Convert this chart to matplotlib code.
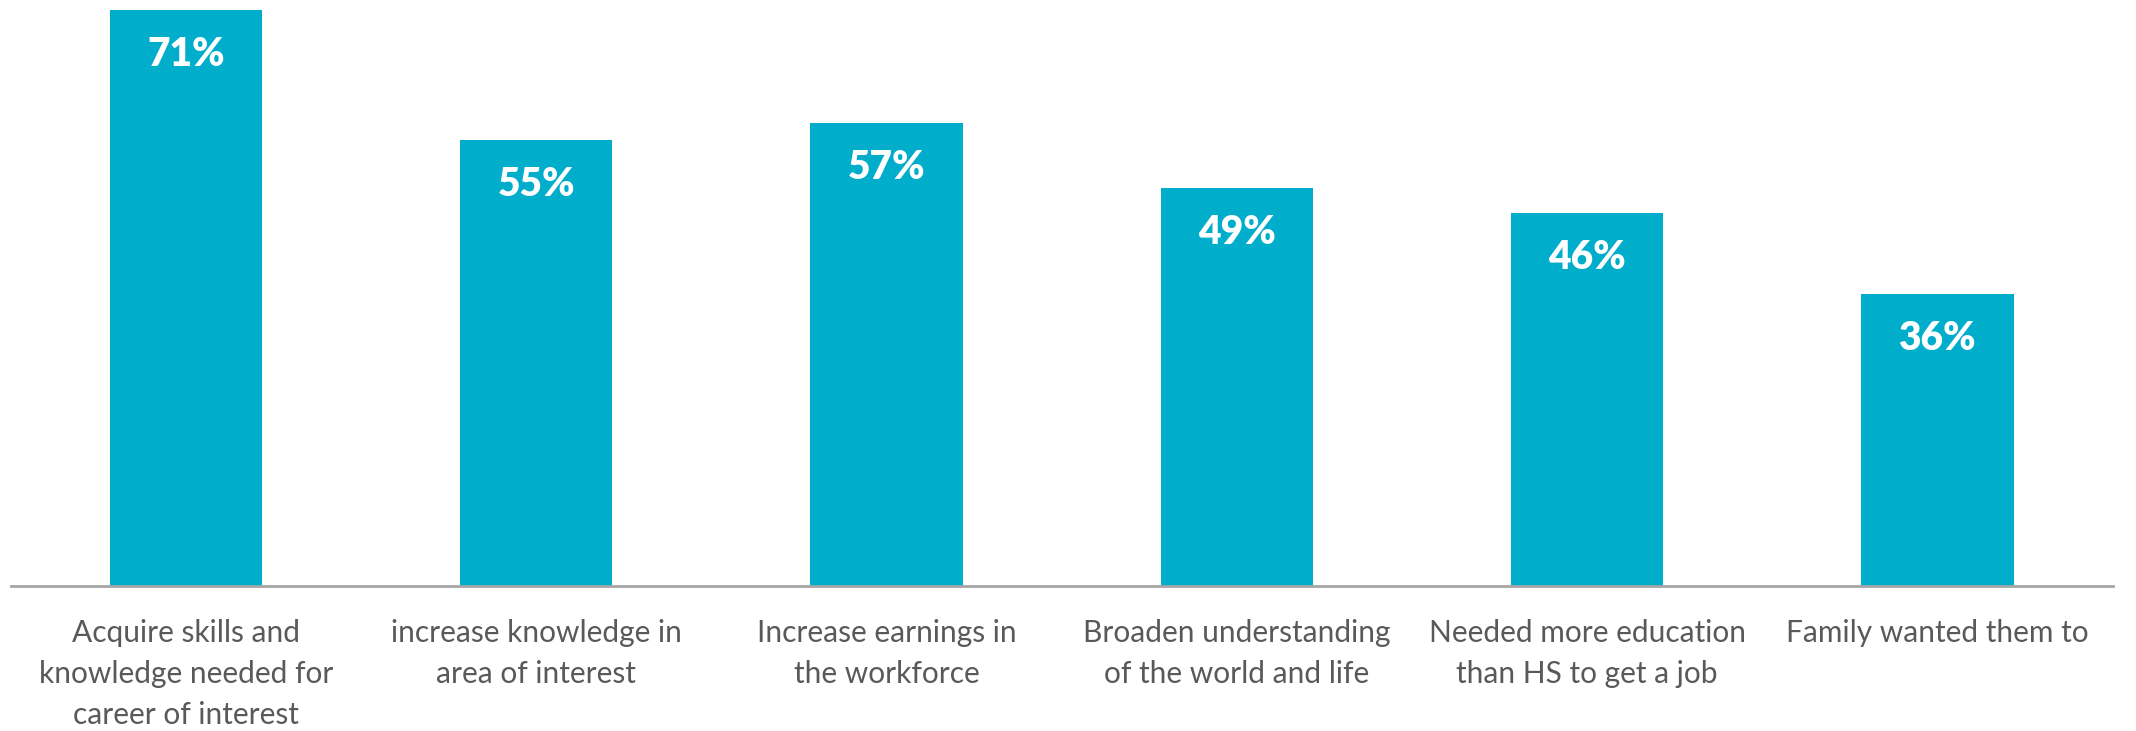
import matplotlib
matplotlib.use("Agg")
import matplotlib.pyplot as plt

categories = [
    "Acquire skills and\nknowledge needed for\ncareer of interest",
    "increase knowledge in\narea of interest",
    "Increase earnings in\nthe workforce",
    "Broaden understanding\nof the world and life",
    "Needed more education\nthan HS to get a job",
    "Family wanted them to",
]
values = [71, 55, 57, 49, 46, 36]

BAR = "#00ADCB"
TXT = "#595959"

plt.rcParams['font.family'] = ['Lato', 'DejaVu Sans']

fig = plt.figure(figsize=(21.36, 7.31), dpi=100)
ax = fig.add_axes([0.005, 0.1984, 0.984, 0.8016])
x = list(range(len(values)))
bars = ax.bar(x, values, width=0.435, color=BAR)
ax.set_xlim(-0.5, len(values) - 0.5)
ax.set_ylim(0, 72.2)

for xi, v in zip(x, values):
    ax.annotate(f"{v}%", (xi, v), xytext=(0, -32), textcoords="offset points",
                ha="center", va="center", color="white", fontsize=28, fontweight="heavy")

ax.set_xticks(x)
ax.set_xticklabels(categories, fontsize=21.5, color=TXT, linespacing=1.55)
ax.tick_params(axis="x", length=0, pad=24)
ax.set_yticks([])
for s in ["top", "right", "left"]:
    ax.spines[s].set_visible(False)
ax.spines["bottom"].set_color("#A6A6A6")
ax.spines["bottom"].set_linewidth(2)

fig.savefig("out.png", dpi=100)
